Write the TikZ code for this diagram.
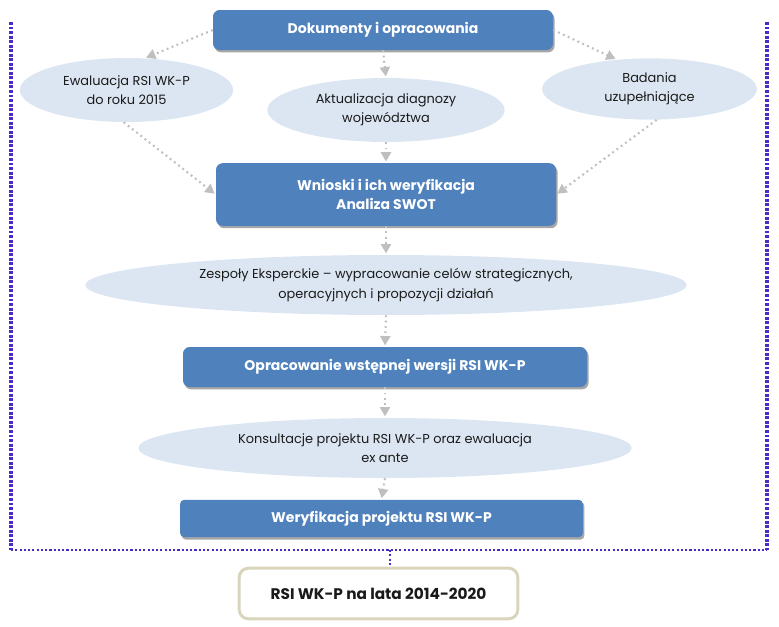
\documentclass[tikz,border=0pt]{standalone}
\usepackage{fontspec}
\setmainfont{Poppins}
\usetikzlibrary{arrows.meta,shapes.geometric,shadows}
\definecolor{stepfill}{HTML}{4F81BD}
\definecolor{bubble}{HTML}{DCE6F2}
\definecolor{link}{HTML}{BFBFBF}
\definecolor{frame}{HTML}{4A2BC8}
\definecolor{result}{HTML}{D9D5BC}
\definecolor{ink}{HTML}{1A1A1A}

\begin{document}
\begin{tikzpicture}[x=.75pt,y=-.75pt,
  every node/.style={font=\fontsize{9.7}{14.5}\selectfont,text=ink,align=center},
  stepbox/.style={fill=stepfill,rounded corners=5pt,inner sep=2pt,
    text=white,font=\fontsize{10.5}{14}\selectfont\bfseries,
    drop shadow={shadow xshift=1.2pt,shadow yshift=-1.8pt,fill=black,opacity=.35}},
  bubblenode/.style={ellipse,fill=bubble,inner sep=0pt},
  flow/.style={draw=link,line width=1.6pt,dash pattern=on 1.4pt off 2.6pt,
    -{Triangle[length=7pt,width=7.5pt,fill=link]},shorten >=1pt},
  outline/.style={draw=frame,line width=2.3pt,dash pattern=on 2.2pt off 1.2pt}]

\useasboundingbox (0,0) rectangle (779,626);

% Frame around the planning stages, open at the top.
\draw[outline] (11,22) -- (11,550);
\draw[outline] (767,22) -- (767,550);
\draw[outline,line width=1.6pt,dash pattern=on 1.6pt off 1.6pt] (11,550) -- (767,550);
\coordinate (frame bottom) at (390,550);

\node[stepbox,minimum width=255pt,minimum height=30pt] (docs) at (383,30)
  {Dokumenty i opracowania};
\node[bubblenode,minimum width=160pt,minimum height=48pt] (ewal) at (126.5,90)
  {Ewaluacja RSI WK-P\\do roku 2015};
\node[bubblenode,minimum width=178pt,minimum height=48pt] (aktual) at (386,110)
  {Aktualizacja diagnozy\\województwa};
\node[bubblenode,minimum width=161pt,minimum height=46pt] (badania) at (649.5,89)
  {Badania\\uzupełniające};
\node[stepbox,minimum width=255pt,minimum height=47pt] (wnioski) at (386,194.5)
  {Wnioski i ich weryfikacja\\Analiza SWOT};
\node[bubblenode,minimum width=451pt,minimum height=45pt] (zespoly) at (386,285)
  {Zespoły Eksperckie – wypracowanie celów strategicznych,\\operacyjnych i propozycji działań};
\node[stepbox,minimum width=303pt,minimum height=30pt] (opracow) at (385,367)
  {Opracowanie wstępnej wersji RSI WK-P};
\node[bubblenode,minimum width=370pt,minimum height=45pt] (konsult) at (385,448)
  {Konsultacje projektu RSI WK-P oraz ewaluacja\\ex ante};
\node[stepbox,minimum width=302pt,minimum height=28pt,rounded corners=3pt] (weryf) at (381.5,518.5)
  {Weryfikacja projektu RSI WK-P};
\node[draw=result,line width=2.2pt,fill=white,rounded corners=7pt,
  minimum width=209pt,minimum height=38pt,font=\fontsize{11.5}{14}\selectfont\bfseries]
  (rsi) at (378.5,593.5) {RSI WK-P na lata 2014-2020};

\draw[flow] (docs.west) -- (ewal.60);
\draw[flow] (docs.south) -- (aktual.north);
\draw[flow] (docs.east) -- (badania.138);
\draw[flow] (ewal.265) -- (wnioski.west);
\draw[flow] (aktual.south) -- (wnioski.north);
\draw[flow] (badania.283) -- (wnioski.east);
\draw[flow] (wnioski.south) -- (zespoly.north);
\draw[flow] (zespoly.south) -- (opracow.north);
\draw[flow] (opracow.south) -- (konsult.north);
\draw[flow] (konsult.south) -- (weryf.north);
\draw[draw=frame,line width=1.6pt,dash pattern=on 1.6pt off 1.6pt]
  (frame bottom) -- (frame bottom |- rsi.north);
\end{tikzpicture}
\end{document}
